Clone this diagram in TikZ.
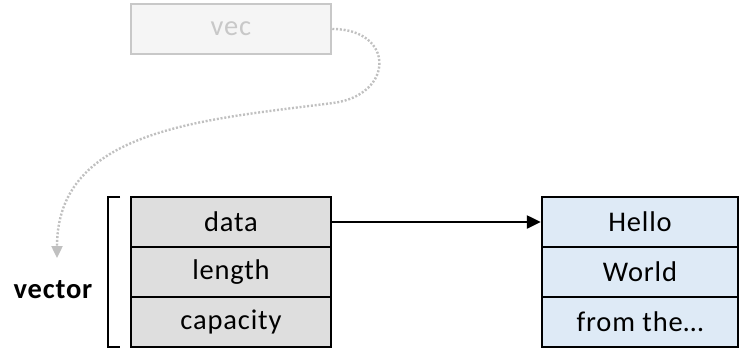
\documentclass[tikz,border=0pt]{standalone}
\usepackage{fontspec}
\setmainfont[LetterSpace=3]{Carlito}
\usetikzlibrary{arrows.meta}
\definecolor{cellgray}{HTML}{DEDEDE}
\definecolor{cellblue}{HTML}{DEEAF6}
\definecolor{ghostfill}{HTML}{F5F5F5}
\definecolor{ghostline}{HTML}{C8C8C8}
\definecolor{ghostdots}{HTML}{C0C0C0}
\tikzset{
  cell/.style={draw=black, line width=2.5pt, minimum height=50pt, inner sep=0pt,
    font=\fontsize{28.5}{30}\selectfont, text=black},
  fieldcell/.style={cell, fill=cellgray, minimum width=200pt},
  datacell/.style={cell, fill=cellblue, minimum width=196pt},
  ghost/.style={draw=ghostline, fill=ghostfill, line width=2.5pt, minimum width=200pt,
    minimum height=50pt, inner sep=0pt, text=ghostline, font=\fontsize{28.5}{30}\selectfont},
  pointer/.style={draw=black, line width=2.5pt, -{Triangle[length=14pt,width=13pt]}},
  ghostpointer/.style={draw=ghostdots, line width=2.4pt, dash pattern=on 2pt off 1.8pt,
    -{Triangle[length=12pt,width=11pt,fill=ghostdots]}},
}
\begin{document}
\begin{tikzpicture}[x=1pt, y=-1pt]
  \useasboundingbox (0,0) rectangle (743,348);
  % the vector struct: three fields
  \node[fieldcell] (data) at (231,222) {data};
  \node[fieldcell] (length) at (231,272) {length};
  \node[fieldcell] (capacity) at (231,322) {capacity};
  % heap buffer
  \node[datacell] (hello) at (640,222) {Hello};
  \node[datacell] (world) at (640,272) {World};
  \node[datacell] (rest) at (640,322) {from the…};
  % faded variable name
  \node[ghost] (vec) at (231,29) {vec};
  % bracket and label
  \coordinate (brtop) at (120,197);
  \coordinate (brbot) at (120,347);
  \draw[line width=2.5pt] (brtop) -- (108,197) -- (108,347) -- (brbot);
  \node[font=\fontsize{28.5}{30}\selectfont\bfseries] (label) at (53,290) {vector};
  % pointers
  \draw[pointer] (data.east) -- (hello.west);
  \coordinate (target) at (57,258);
  \draw[ghostpointer] (vec.east) .. controls (395,29) and (395,95) .. (333,103)
    .. controls (200,120) and (57,130) .. (target);
\end{tikzpicture}
\end{document}
